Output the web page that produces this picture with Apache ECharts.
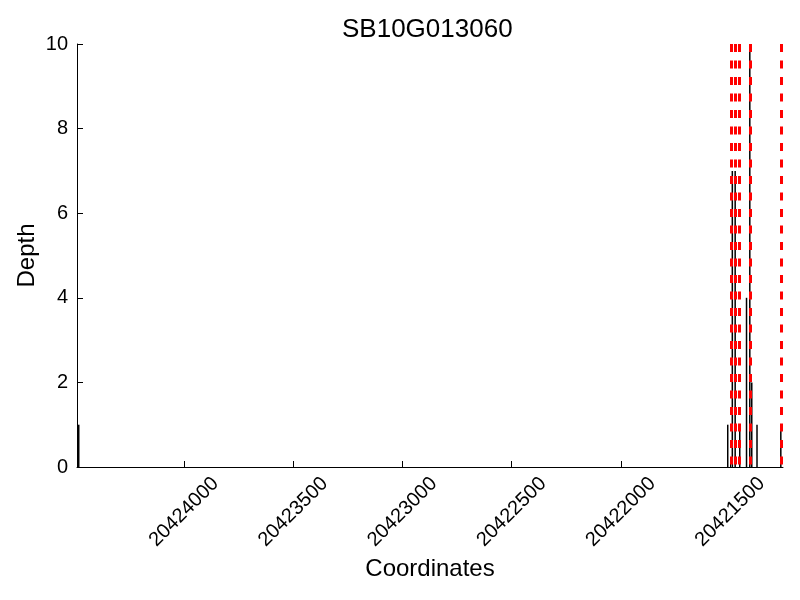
<!DOCTYPE html>
<html>
<head>
<meta charset="utf-8">
<script src="https://cdn.jsdelivr.net/npm/echarts@6/dist/echarts.min.js"></script>
<style>html,body{margin:0;padding:0;background:#fff}#c{width:800px;height:600px}</style>
</head>
<body>
<div id="c"></div>
<script>
const titleText = 'SB10G013060';
const positions = [20424482, 20421511, 20421490, 20421477, 20421456, 20421425, 20421410, 20421401, 20421377, 20421268];
const depths    = [1,        1,        7,        7,        1,        4,        10,       2,        1,        1];
const markers   = [20421493, 20421475, 20421456, 20421410, 20421268];
const xTicks    = [20421500, 20422000, 20422500, 20423000, 20423500, 20424000];
const yTicks    = [0, 2, 4, 6, 8, 10];
const xRange    = [20421258, 20424490];

const FONT = 'Liberation Sans, Arial, sans-serif';
const chart = echarts.init(document.getElementById('c'), null, {renderer: 'canvas'});
chart.setOption({
  animation: false,
  backgroundColor: '#ffffff',
  title: {
    text: titleText, left: 337, top: 12,
    textStyle: {fontFamily: FONT, fontSize: 26, fontWeight: 'normal', color: '#000'}
  },
  grid: {left: 77, right: 17, top: 44, bottom: 133, containLabel: false, outerBoundsMode: 'none'},
  xAxis: {
    type: 'value', inverse: true, min: xRange[0], max: xRange[1],
    name: 'Coordinates', nameLocation: 'middle', nameGap: 90, nameMoveOverlap: false,
    nameTextStyle: {fontFamily: FONT, fontSize: 24, color: '#000'},
    axisLine: {show: true, onZero: false, lineStyle: {color: '#000', width: 1}},
    axisTick: {show: true, inside: true, length: 6, customValues: xTicks, lineStyle: {color: '#000'}},
    axisLabel: {customValues: xTicks, rotate: 45, align: 'center', verticalAlign: 'middle', margin: 45,
      fontFamily: FONT, fontSize: 20, color: '#000', formatter: v => String(v)},
    splitLine: {show: false}
  },
  yAxis: {
    type: 'value', min: 0, max: 10, interval: 2,
    name: 'Depth', nameLocation: 'middle', nameGap: 38, nameMoveOverlap: false,
    nameTextStyle: {fontFamily: FONT, fontSize: 24, color: '#000'},
    axisLine: {show: true, lineStyle: {color: '#000', width: 1}},
    axisTick: {show: true, inside: true, length: 6, lineStyle: {color: '#000'}},
    axisLabel: {margin: 9, fontFamily: FONT, fontSize: 20, color: '#000',
      formatter: v => yTicks.includes(v) ? String(v) : ''},
    splitLine: {show: false}
  },
  series: [{
    type: 'bar',
    data: positions.map((p, i) => [p, depths[i]]),
    barWidth: 1.5,
    itemStyle: {color: '#000'},
    z: 2,
    markLine: {
      silent: true, symbol: ['none', 'none'], label: {show: false},
      lineStyle: {color: '#ff0000', width: 3, type: [8, 8.5]},
      z: 5,
      data: markers.map(m => [{coord: [m, 10]}, {coord: [m, 0]}])
    }
  }]
});
</script>
</body>
</html>
